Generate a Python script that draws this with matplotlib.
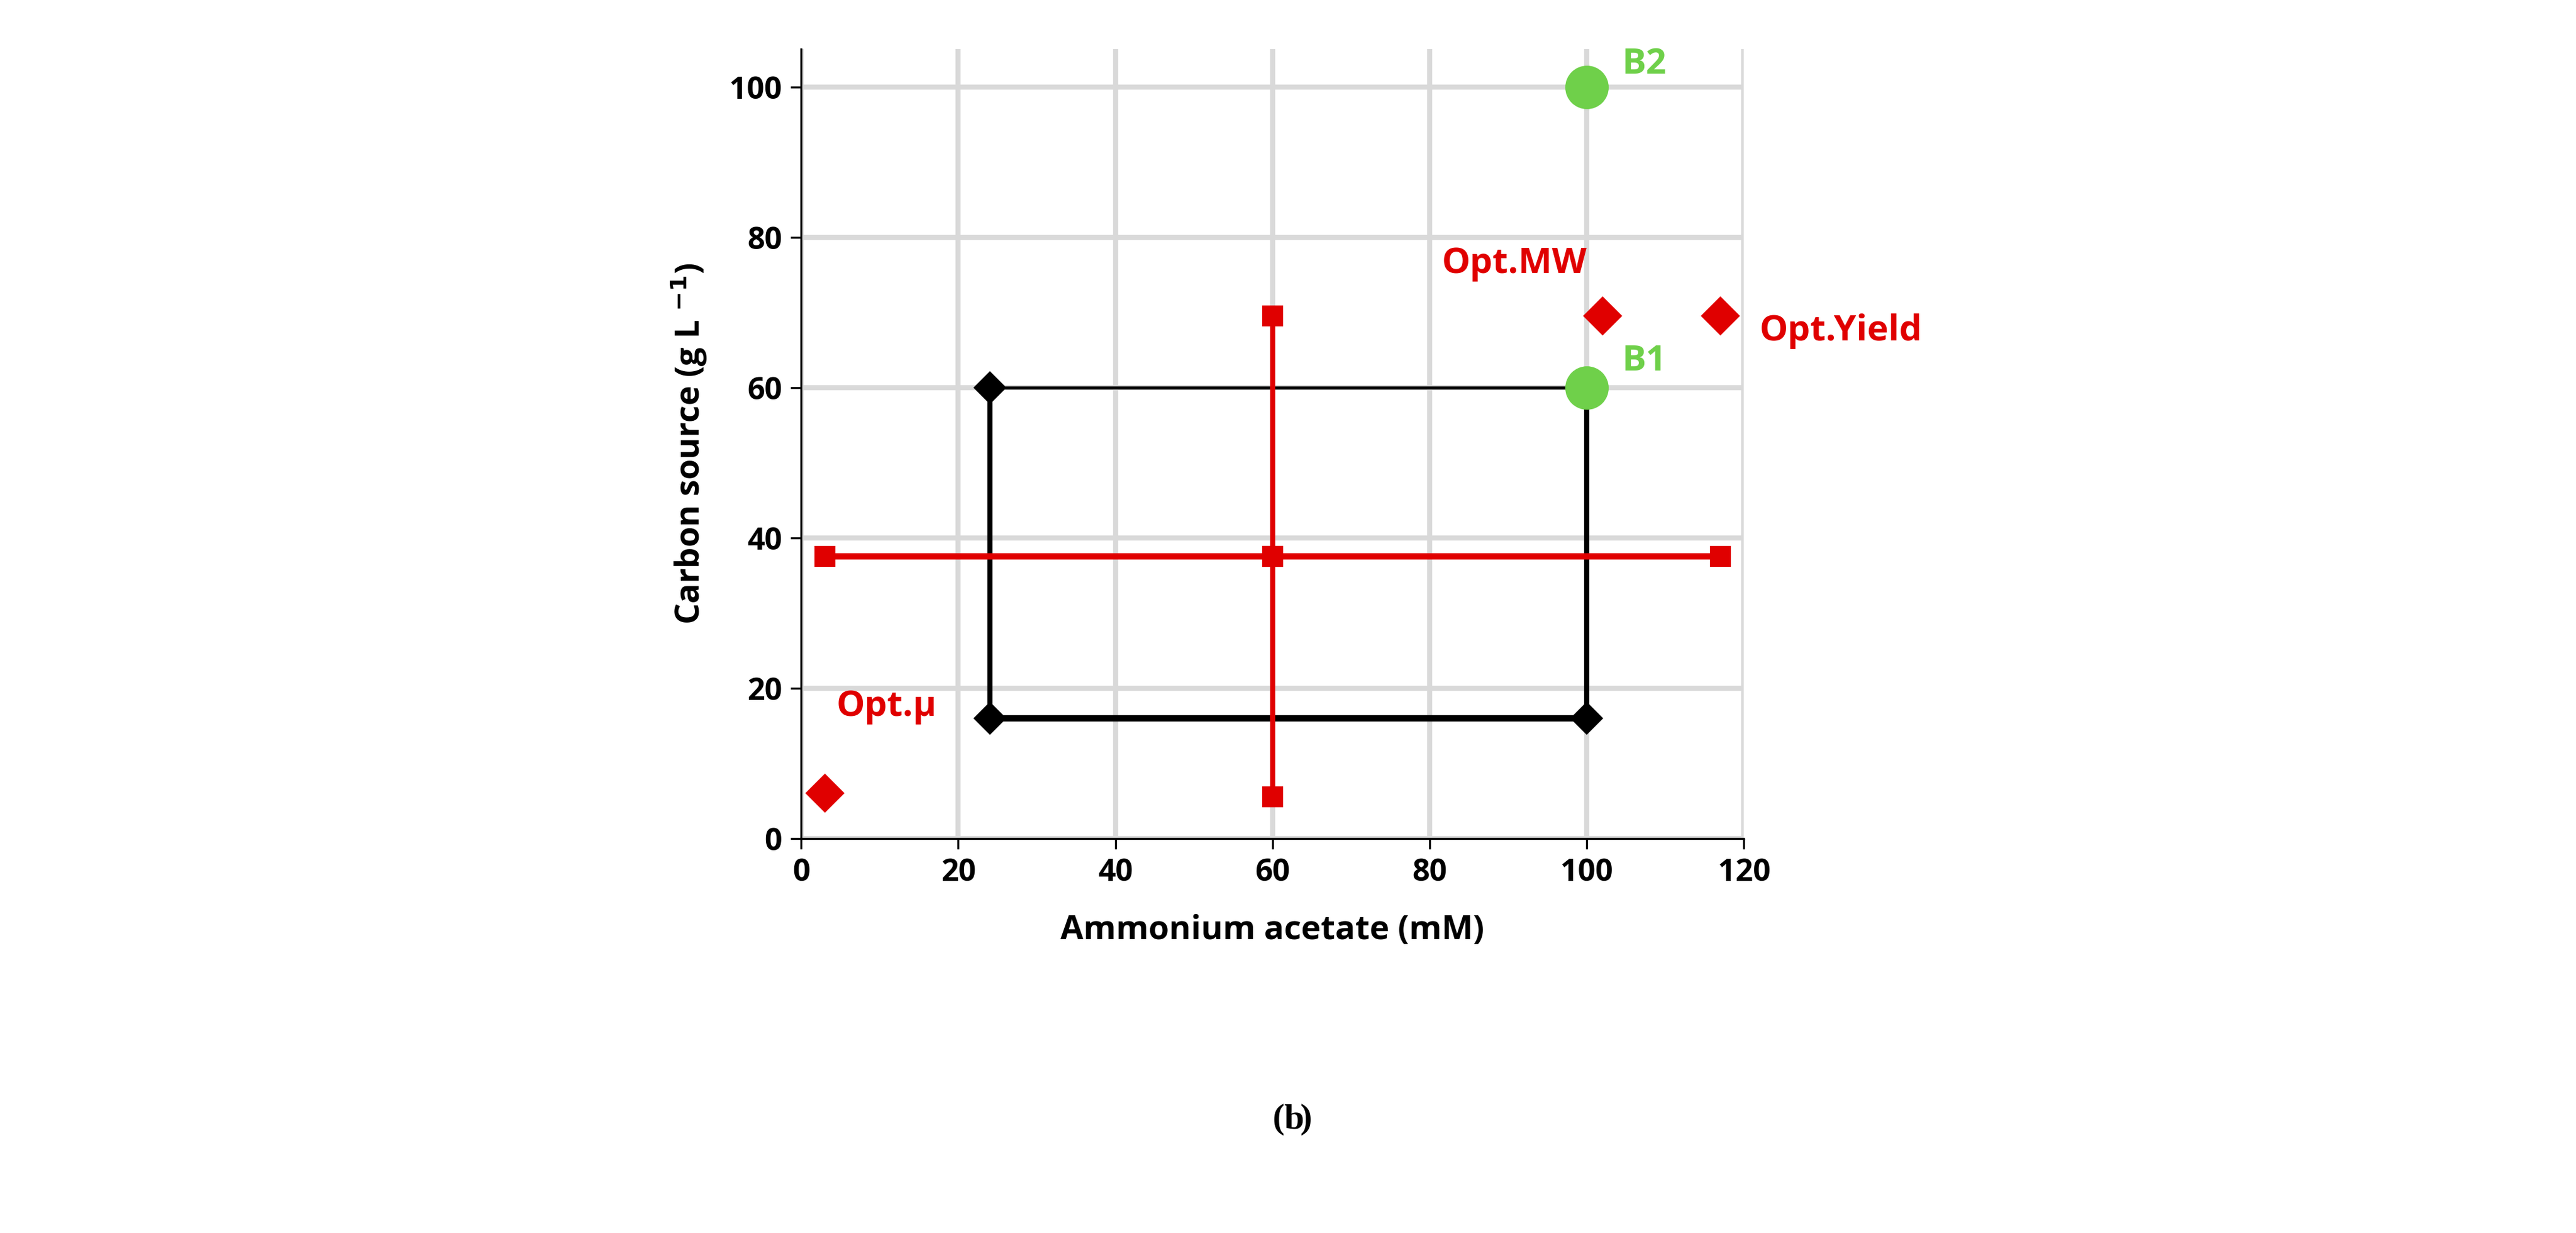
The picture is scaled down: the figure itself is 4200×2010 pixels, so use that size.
import matplotlib.pyplot as plt

plt.rcParams['font.family'] = ['Open Sans', 'DejaVu Sans']
plt.rcParams['font.weight'] = 'bold'
plt.rcParams['axes.labelweight'] = 'bold'

RED = "#e00000"
GREEN = "#6fd04a"

# black design box (corners)
box_x = [24, 100, 100, 24, 24]
box_y = [16, 16, 60, 60, 16]
box_marker_x = [24, 100, 24]
box_marker_y = [16, 16, 60]

# red cross (axial points)
hline_x = [3, 60, 117]
hline_y = [37.5, 37.5, 37.5]
vline_x = [60, 60]
vline_y = [5.5, 69.5]

# optima
opt_x = [3, 102, 117]
opt_y = [6, 69.5, 69.5]
opt_labels = ["Opt.μ", "Opt.MW", "Opt.Yield"]

# batches
b_x = [100, 100]
b_y = [100, 60]
b_labels = ["B2", "B1"]

fig = plt.figure(figsize=(14, 6.7), dpi=300)
ax = fig.add_axes([0.311, 0.320, 0.366, 0.64])

ax.plot(box_x[:2], box_y[:2], color="black", lw=2.5, zorder=3)
ax.plot(box_x[1:3], box_y[1:3], color="black", lw=2, zorder=3)
ax.plot(box_x[2:4], box_y[2:4], color="black", lw=1.2, zorder=3)
ax.plot(box_x[3:5], box_y[3:5], color="black", lw=2, zorder=3)
ax.plot(box_marker_x, box_marker_y, "D", color="black", ms=8, ls="none", zorder=4)

ax.plot(hline_x, hline_y, color=RED, lw=2.5, marker="s", ms=7, zorder=3)
ax.plot(vline_x, vline_y, color=RED, lw=2, marker="s", ms=7, zorder=3)
ax.plot([60], [37.5], "s", color=RED, ms=7, zorder=4)

ax.plot(opt_x, opt_y, "D", color=RED, ms=10, ls="none", zorder=4)
ax.plot(b_x, b_y, "o", color=GREEN, ms=16, ls="none", zorder=5)

ax.text(4.5, 17.5, opt_labels[0], color=RED, fontsize=14, ha="left", va="center")
ax.text(100, 76.5, opt_labels[1], color=RED, fontsize=14, ha="right", va="center")
ax.text(122, 67.5, opt_labels[2], color=RED, fontsize=14, ha="left", va="center")
ax.text(104.5, 103, b_labels[0], color=GREEN, fontsize=14, ha="left", va="center")
ax.text(104.5, 63.5, b_labels[1], color=GREEN, fontsize=14, ha="left", va="center")

ax.set_xlim(0, 120)
ax.set_ylim(0, 105)
ax.set_xticks(range(0, 121, 20))
ax.set_yticks(range(0, 101, 20))
ax.grid(True, color="#d9d9d9", lw=2)
ax.set_axisbelow(True)
for s in ["top", "right"]:
    ax.spines[s].set_visible(False)
ax.tick_params(labelsize=12, length=4)
ax.set_xlabel("Ammonium acetate (mM)", fontsize=13, labelpad=10)
ax.set_ylabel("Carbon source (g L $^{\\mathbf{-1}}$)", fontsize=13, labelpad=8)
for ln in ax.lines:
    ln.set_clip_on(False)

fig.text(0.4985, 0.085, "(", ha="right", fontsize=14, family="Liberation Serif")
fig.text(0.4985, 0.085, "b", ha="left", fontsize=14, fontweight="bold",
         family="Liberation Serif")
fig.text(0.5045, 0.085, ")", ha="left", fontsize=14, family="Liberation Serif")
fig.savefig("out.png", dpi=300)
